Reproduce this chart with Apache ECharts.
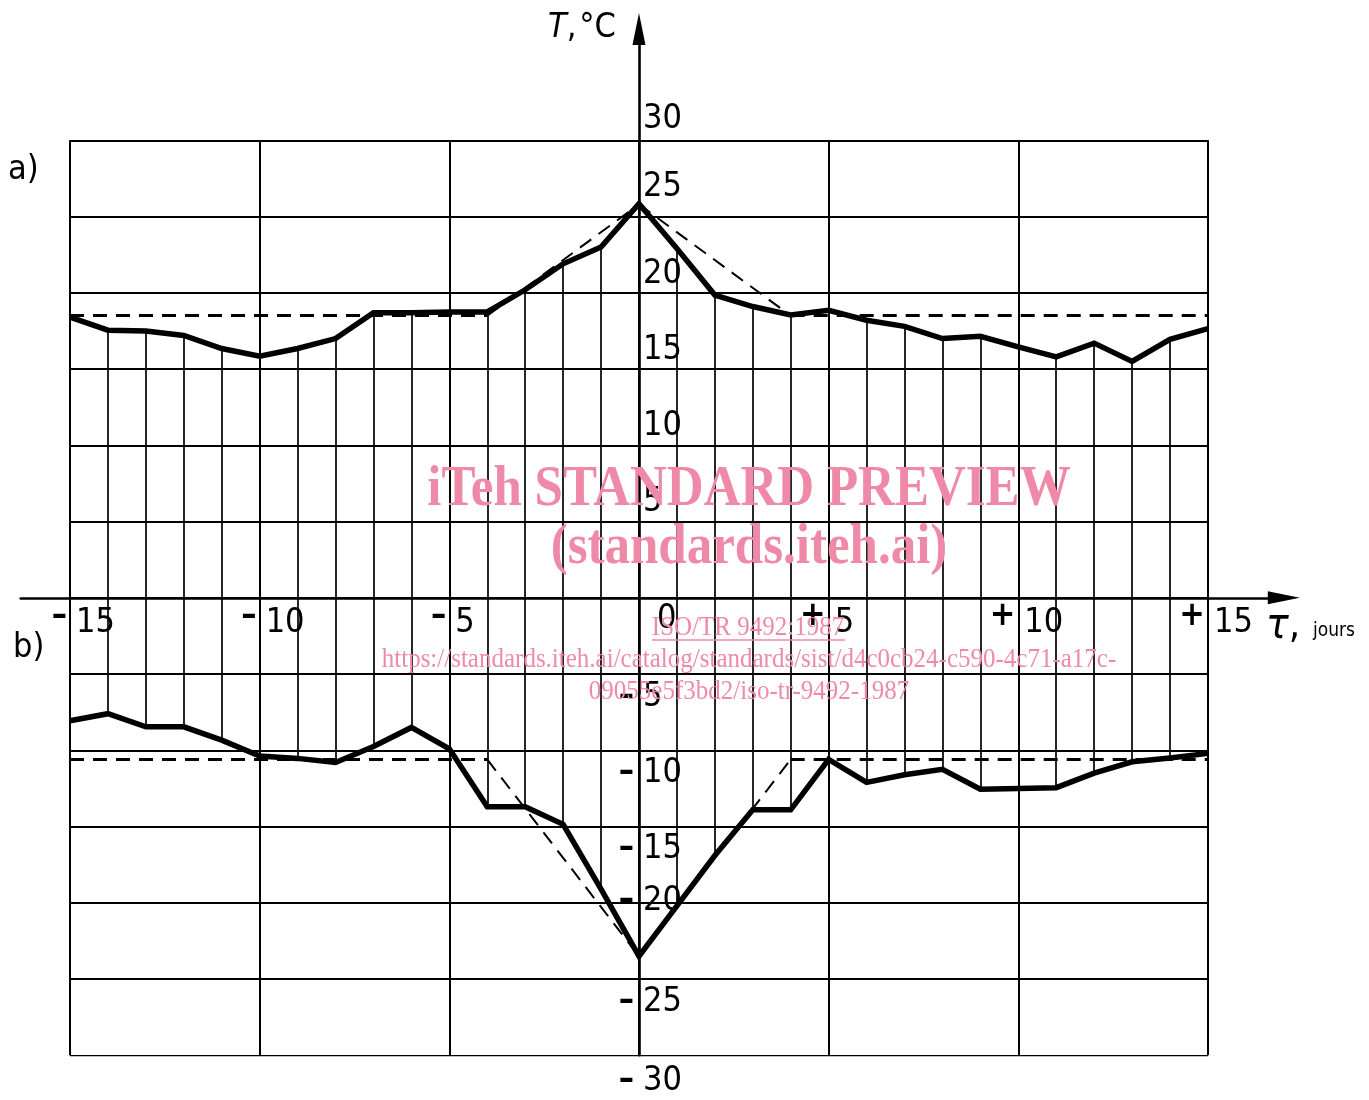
<!DOCTYPE html>
<html><head><meta charset="utf-8">
<script src="https://cdn.jsdelivr.net/npm/echarts@6/dist/echarts.min.js"></script>
<style>html,body{margin:0;padding:0;background:#fff}#c{width:1369px;height:1100px}</style>
</head><body><div id="c"></div>
<script>
// ---------- data ----------
const days = [-15,-14,-13,-12,-11,-10,-9,-8,-7,-6,-5,-4,-3,-2,-1,0,1,2,3,4,5,6,7,8,9,10,11,12,13,14,15];
const curveA = [18.4,17.55,17.5,17.2,16.35,15.85,16.35,17.0,18.7,18.7,18.75,18.75,20.2,21.9,23.0,25.85,22.9,19.85,19.1,18.55,18.85,18.2,17.8,17.0,17.15,16.45,15.8,16.7,15.5,16.95,17.65];
const curveB = [-8.06,-7.6,-8.46,-8.46,-9.33,-10.37,-10.53,-10.8,-9.75,-8.5,-9.9,-13.7,-13.7,-14.85,-19.1,-23.5,-20.2,-16.9,-13.9,-13.9,-10.6,-12.1,-11.6,-11.25,-12.55,-12.5,-12.45,-11.5,-10.75,-10.5,-10.2];
const dashA = [[-15,18.5],[-4,18.5],[0,25.8],[4,18.5],[15,18.5]];
const dashB = [[-15,-10.6],[-4,-10.6],[0,-23.5],[4,-10.6],[15,-10.6]];
const xGridValues = [-15,-10,-5,0,5,10,15];
const yGridValues = [-30,-25,-20,-15,-10,-5,0,5,10,15,20,25,30];
const xTickValues = [-15,-10,-5,0,5,10,15];
const xTickLabels = ['–15','–10','–5','0','+5','+10','+15'];
const yTickValues = [30,25,20,15,10,5,-5,-10,-15,-20,-25,-30];
const yTickLabels = ['30','25','20','15','10','5','–5','–10','–15','–20','–25','–30'];

// ---------- styles ----------
const FONT = "'Liberation Sans Narrow','DejaVu Sans Condensed',sans-serif";
const FS = 34;
const PINK = '#ee8aa8';
const yNudge = {'25': -10, '30': -2, '-20': -25, '-30': 3};

const chart = echarts.init(document.getElementById('c'), null, {renderer: 'canvas'});

const gridLines = [];
xGridValues.forEach(v => gridLines.push({coords: [[v, -30], [v, 30]]}));
yGridValues.forEach(v => gridLines.push({coords: [[-15, v], [15, v]]}));

const hatch = [];
days.forEach((d, i) => {
  if (d === 0) return;
  hatch.push({coords: [[d, 0], [d, curveA[i]]]});
  hatch.push({coords: [[d, 0], [d, curveB[i]]]});
});

function dashSegs(pts) {
  const out = [];
  for (let i = 0; i < pts.length - 1; i++) {
    const flat = pts[i][1] === pts[i + 1][1];
    out.push({coords: [pts[i], pts[i + 1]], lineStyle: {width: flat ? 3 : 2}});
  }
  return out;
}

function lbl(x, y, text, align, dx, dy, extra) {
  return {value: [x, y], label: Object.assign({show: true, formatter: text, position: [dx, dy], align: align, verticalAlign: 'middle',
    fontFamily: FONT, fontSize: FS, color: '#000', opacity: 1}, extra || {})};
}
const SIGN = {fontWeight: 'bold'};
const labels = [];
xTickValues.forEach((v, i) => {
  const t = xTickLabels[i];
  if (v === 0) { labels.push(lbl(v, 0, t, 'left', 18, 21)); return; }
  labels.push(lbl(v, 0, t[0], 'right', -3, 18, SIGN));
  labels.push(lbl(v, 0, t.slice(1), 'left', 6, 25));
});
yTickValues.forEach((v, i) => {
  const t = yTickLabels[i];
  const n = yNudge[String(v)] || 0;
  if (v > 0) {
    labels.push(lbl(0, v, t, 'left', 4, -19 + n));
  } else {
    labels.push(lbl(0, v, t[0], 'right', -5, 22 + n, SIGN));
    labels.push(lbl(0, v, t.slice(1), 'left', 4, 23 + n));
  }
});

const option = {
  animation: false,
  backgroundColor: '#fff',
  grid: {left: 20.7, width: 1263.1, top: 29, height: 1026.3, containLabel: false},
  xAxis: {type: 'value', min: -16.3, max: 17.0,
    axisLine: {show: true, onZero: true, lineStyle: {color: '#000', width: 2.6}, symbol: ['none', 'triangle'], symbolSize: [13, 32]},
    axisTick: {show: false}, axisLabel: {show: false}, splitLine: {show: false}},
  yAxis: {type: 'value', min: -30, max: 37.3,
    axisLine: {show: true, onZero: true, lineStyle: {color: '#000', width: 2.6}, symbol: ['none', 'triangle'], symbolSize: [13, 32]},
    axisTick: {show: false}, axisLabel: {show: false}, splitLine: {show: false}},
  series: [
    {type: 'lines', coordinateSystem: 'cartesian2d', silent: true, data: gridLines, lineStyle: {color: '#000', width: 2, opacity: 1}, z: 1},
    {type: 'lines', coordinateSystem: 'cartesian2d', silent: true, data: hatch, lineStyle: {color: '#000', width: 1.7, opacity: 1}, z: 2},
    {type: 'lines', coordinateSystem: 'cartesian2d', silent: true, data: dashSegs(dashA), lineStyle: {color: '#000', opacity: 1, type: [14, 9]}, z: 3},
    {type: 'lines', coordinateSystem: 'cartesian2d', silent: true, data: dashSegs(dashB), lineStyle: {color: '#000', opacity: 1, type: [14, 9]}, z: 3},
    {type: 'line', name: 'a', data: days.map((d, i) => [d, curveA[i]]), symbol: 'none', silent: true,
      lineStyle: {color: '#000', width: 5.5, join: 'miter'}, z: 4},
    {type: 'line', name: 'b', data: days.map((d, i) => [d, curveB[i]]), symbol: 'none', silent: true,
      lineStyle: {color: '#000', width: 5.5, join: 'miter'}, z: 4},
    {type: 'scatter', data: labels, symbolSize: 0, silent: true, z: 5}
  ],
  graphic: [
    {type: 'text', left: 548, top: 11, style: {text: '{i|T},{s| }°C', font: `${FS}px ${FONT}`, fill: '#000',
      rich: {i: {fontStyle: 'italic', fontFamily: FONT, fontSize: FS}, s: {fontFamily: FONT, fontSize: 10}}}},
    {type: 'text', left: 1266, top: 606, style: {text: '{i|τ},', font: `40px ${FONT}`, fill: '#000',
      rich: {i: {fontStyle: 'italic', fontFamily: FONT, fontSize: 42}}}},
    {type: 'text', left: 1313, top: 622, style: {text: 'jours', font: `19px ${FONT}`, fill: '#000'}},
    {type: 'text', left: 8, top: 153, style: {text: 'a)', font: `${FS}px ${FONT}`, fill: '#000'}},
    {type: 'text', left: 13, top: 631, style: {text: 'b)', font: `${FS}px ${FONT}`, fill: '#000'}},
    {type: 'text', x: 749, y: 490, scaleY: 1.12, z: 100, style: {text: 'iTeh STANDARD PREVIEW', font: "bold 51px 'Liberation Serif', serif", fill: PINK, align: 'center', verticalAlign: 'middle'}},
    {type: 'text', x: 749, y: 548, scaleY: 1.12, z: 100, style: {text: '(standards.iteh.ai)', font: "bold 51px 'Liberation Serif', serif", fill: PINK, align: 'center', verticalAlign: 'middle'}},
    {type: 'text', x: 748, y: 628, scaleY: 1.1, z: 100, style: {text: 'ISO/TR 9492:1987', font: "25px 'Liberation Serif', serif", fill: PINK, align: 'center', verticalAlign: 'middle'}},
    {type: 'line', z: 100, shape: {x1: 652, y1: 640, x2: 845, y2: 640}, style: {stroke: PINK, lineWidth: 1.5}},
    {type: 'text', x: 749, y: 660, scaleY: 1.1, z: 100, style: {text: 'https://standards.iteh.ai/catalog/standards/sist/d4c0cb24-c590-4c71-a17c-', font: "25px 'Liberation Serif', serif", fill: PINK, align: 'center', verticalAlign: 'middle'}},
    {type: 'text', x: 749, y: 692, scaleY: 1.1, z: 100, style: {text: '09055e5f3bd2/iso-tr-9492-1987', font: "25px 'Liberation Serif', serif", fill: PINK, align: 'center', verticalAlign: 'middle'}}
  ]
};
chart.setOption(option);
</script>
</body></html>
